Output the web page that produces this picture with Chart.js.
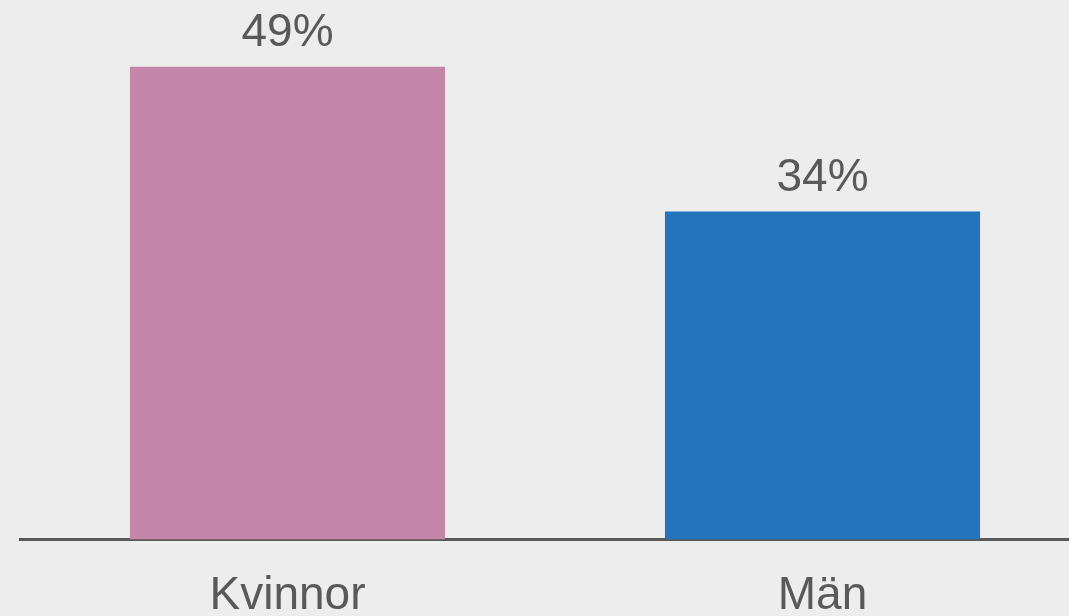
<!DOCTYPE html>
<html>
<head>
<meta charset="utf-8">
<script src="https://cdn.jsdelivr.net/npm/chart.js@4/dist/chart.umd.min.js"></script>
<style>
  html, body { margin: 0; padding: 0; background: #EDEDED; overflow: hidden; }
  #wrap { position: relative; width: 1090px; height: 616px; }
</style>
</head>
<body>
<div id="wrap"><canvas id="c"></canvas></div>
<script>
const categories = ["Kvinnor", "Män"];
const values = [49, 34];
const barColors = ["#C486A8", "#2373BD"];
const valueLabels = ["49%", "34%"];

const FONT = "'Liberation Sans', Arial, sans-serif";

const valueLabelPlugin = {
  id: "valueLabels",
  afterDatasetsDraw(chart) {
    const ctx = chart.ctx;
    const meta = chart.getDatasetMeta(0);
    ctx.save();
    ctx.font = "46px " + FONT;
    ctx.fillStyle = "#595959";
    ctx.textAlign = "center";
    ctx.textBaseline = "alphabetic";
    meta.data.forEach((bar, i) => {
      ctx.fillText(valueLabels[i], bar.x, bar.y - 21);
    });
    ctx.restore();
  }
};

new Chart(document.getElementById("c"), {
  type: "bar",
  data: {
    labels: categories,
    datasets: [{
      data: values,
      backgroundColor: barColors,
      borderWidth: 0,
      barPercentage: 0.589,
      categoryPercentage: 1
    }]
  },
  options: {
    responsive: true,
    maintainAspectRatio: false,
    animation: false,
    layout: { padding: { left: 20, right: 0, top: 9, bottom: 0 } },
    plugins: { legend: { display: false }, tooltip: { enabled: false } },
    scales: {
      x: {
        z: 1,
        grid: { display: false, drawTicks: false },
        border: { display: true, color: "#595959", width: 3 },
        ticks: {
          color: "#595959",
          font: { family: FONT, size: 46, lineHeight: 1 },
          padding: 34
        },
        afterFit: (s) => { s.height = 76.5; }
      },
      y: {
        display: false,
        min: 0,
        max: 55
      }
    }
  },
  plugins: [valueLabelPlugin]
});
</script>
</body>
</html>
